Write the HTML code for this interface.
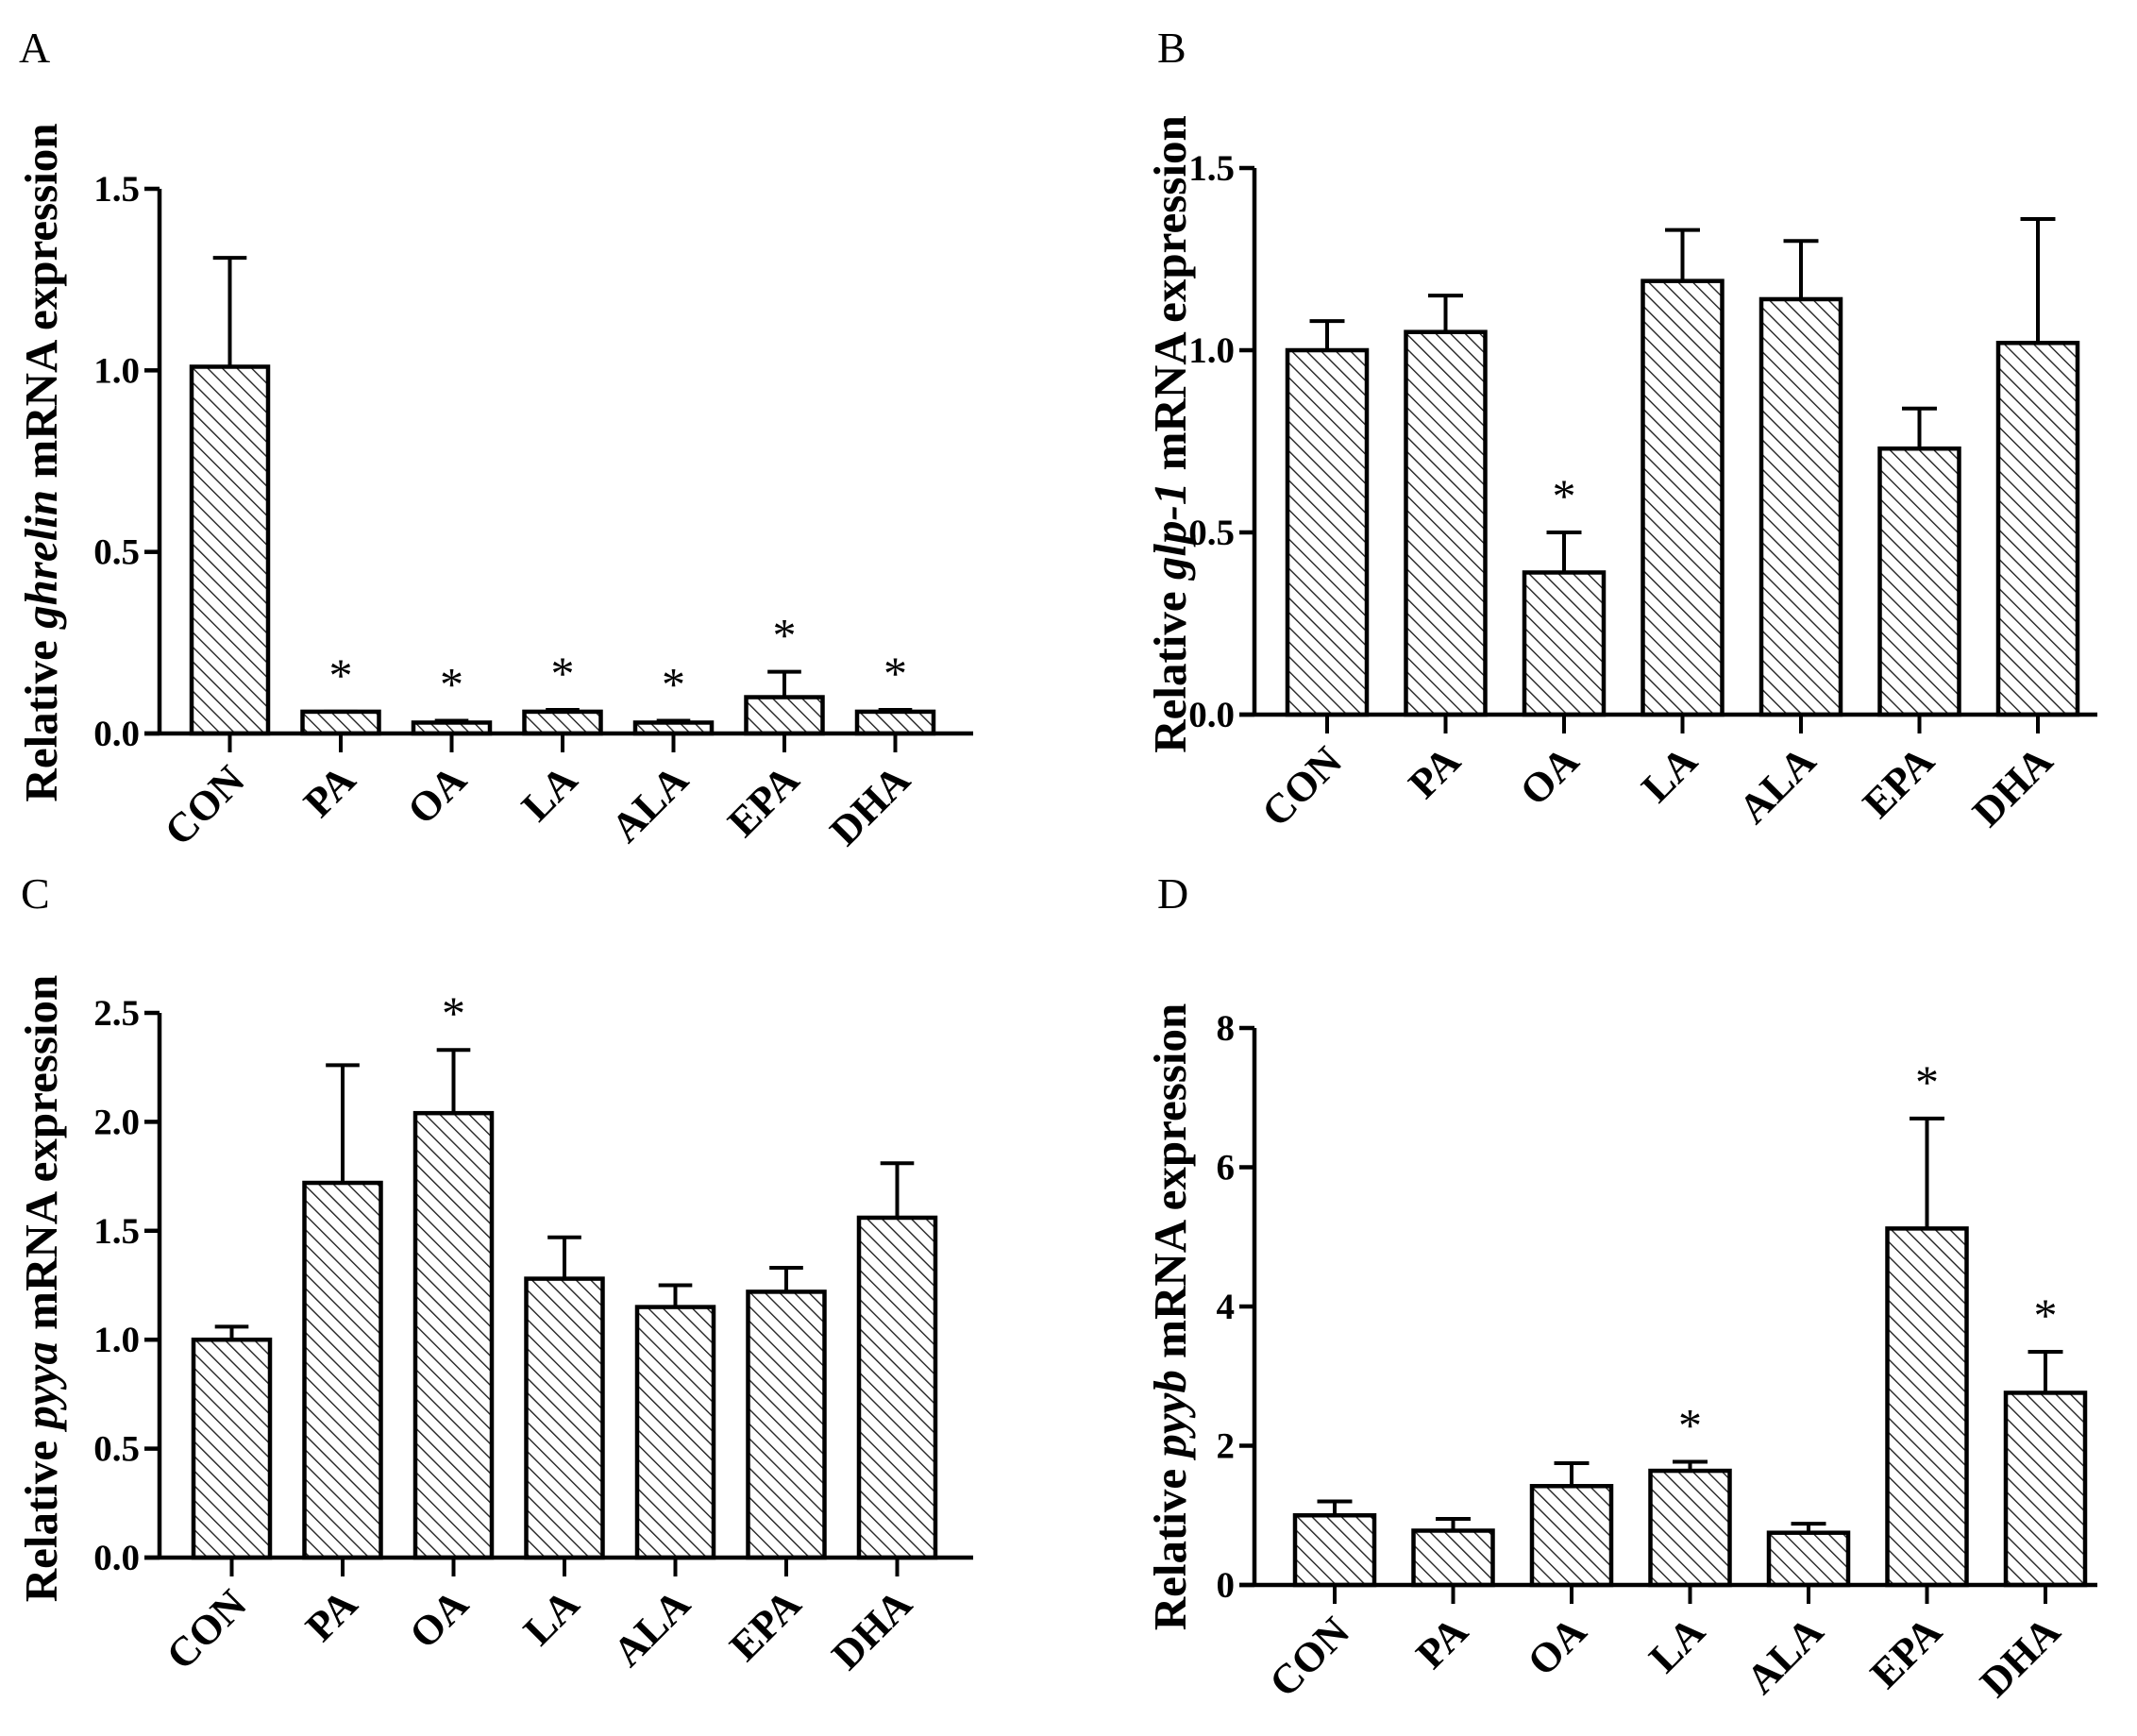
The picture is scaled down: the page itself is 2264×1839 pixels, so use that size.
<!DOCTYPE html>
<html><head><meta charset="utf-8"><style>
html,body{margin:0;padding:0;background:#fff}
svg{display:block}
text{font-family:"Liberation Serif",serif}
</style></head><body>
<svg id="fig" width="2264" height="1839" viewBox="0 0 2264 1839" xmlns="http://www.w3.org/2000/svg">
<defs>
<pattern id="hatch" patternUnits="userSpaceOnUse" width="11" height="11" patternTransform="rotate(-45)">
<rect width="11" height="11" fill="#fff"/>
<line x1="0" y1="0" x2="0" y2="11" stroke="#222" stroke-width="2.8"/>
</pattern>
</defs>
</svg>
<script>
const categories = ["CON","PA","OA","LA","ALA","EPA","DHA"];
const aValues = [1.01,0.06,0.03,0.06,0.03,0.10,0.06];
const aErrTop = [1.31,0.06,0.035,0.065,0.035,0.17,0.065];
const aStars = [0,1,1,1,1,1,1];
const aTicks = ["0.0","0.5","1.0","1.5"];
const bValues = [1.0,1.05,0.39,1.19,1.14,0.73,1.02];
const bErrTop = [1.08,1.15,0.50,1.33,1.30,0.84,1.36];
const bStars = [0,0,1,0,0,0,0];
const bTicks = ["0.0","0.5","1.0","1.5"];
const cValues = [1.0,1.72,2.04,1.28,1.15,1.22,1.56];
const cErrTop = [1.06,2.26,2.33,1.47,1.25,1.33,1.81];
const cStars = [0,0,1,0,0,0,0];
const cTicks = ["0.0","0.5","1.0","1.5","2.0","2.5"];
const dValues = [1.0,0.78,1.42,1.64,0.75,5.12,2.76];
const dErrTop = [1.2,0.95,1.75,1.77,0.88,6.7,3.35];
const dStars = [0,0,0,1,0,1,1];
const dTicks = ["0","2","4","6","8"];

const NS="http://www.w3.org/2000/svg";
const svg=document.getElementById('fig');
function mk(tag,attrs,parent){const e=document.createElementNS(NS,tag);for(const k in attrs)e.setAttribute(k,attrs[k]);(parent||svg).appendChild(e);return e;}

function panel(cfg){
  const g=mk('g',{});
  
  
  const tMax=parseFloat(cfg.ticks[cfg.ticks.length-1]);
  const y=v=>cfg.y0-(v/tMax)*(cfg.y0-cfg.yTop);
  const xc=i=>cfg.barLeft+i*cfg.spacing+cfg.barW/2;
  const lt=mk('text',{x:cfg.lx,y:cfg.ly,'font-size':46},g);lt.textContent=cfg.letter;
  
  
  cfg.values.forEach((v,i)=>{
    const x0=xc(i)-cfg.barW/2;
    const eb=mk('line',{x1:xc(i),x2:xc(i),y1:y(v),y2:y(cfg.err[i]),stroke:'#000','stroke-width':4},g);
    
    
    const cap=mk('line',{x1:xc(i)-cfg.barW*0.22,x2:xc(i)+cfg.barW*0.22,y1:y(cfg.err[i]),y2:y(cfg.err[i]),stroke:'#000','stroke-width':4},g);
    
    
    const r=mk('rect',{x:x0,y:y(v),width:cfg.barW,height:cfg.y0-y(v),fill:'url(#hatch)',stroke:'#000','stroke-width':4.5},g);
    
    
    if(cfg.stars[i]){
      const s=mk('text',{x:xc(i),y:y(cfg.err[i])-22,'font-size':50,'text-anchor':'middle'},g);s.textContent='*';
      
      
    }
    const tk=mk('line',{x1:xc(i),x2:xc(i),y1:cfg.y0,y2:cfg.y0+20,stroke:'#000','stroke-width':4},g);
    
    
    const lx=xc(i)+18, ly=cfg.y0+52;
    const lb=mk('text',{x:lx,y:ly,'font-size':44,'font-weight':'bold','text-anchor':'end',transform:`rotate(-45 ${lx} ${ly})`},g);
    lb.textContent=categories[i];
    
    
  });
  const ya=mk('line',{x1:cfg.ax,x2:cfg.ax,y1:cfg.yTop,y2:cfg.y0+2,stroke:'#000','stroke-width':4.5},g);
  
  
  const xa=mk('line',{x1:cfg.ax-16,x2:cfg.xEnd,y1:cfg.y0,y2:cfg.y0,stroke:'#000','stroke-width':4.5},g);
  
  
  cfg.ticks.forEach(t=>{
    const yy=y(parseFloat(t));
    const tl=mk('line',{x1:cfg.ax-16,x2:cfg.ax,y1:yy,y2:yy,stroke:'#000','stroke-width':4.5},g);
    
    
    const tt=mk('text',{x:cfg.ax-21,y:yy+13,'font-size':39,'font-weight':'bold','text-anchor':'end'},g);tt.textContent=t;
    
    
  });
  const cy=cfg.ty;
  const yt=mk('text',{x:cfg.tx,y:cy,'font-size':49,'font-weight':'bold','text-anchor':'middle',transform:`rotate(-90 ${cfg.tx} ${cy})`},g);
  
  
  const t1=mk('tspan',{},yt);t1.textContent='Relative ';
  const t2=mk('tspan',{'font-style':'italic'},yt);t2.textContent=cfg.gene;
  const t3=mk('tspan',{},yt);t3.textContent=' mRNA expression';
}
panel({letter:'A',lx:20,ly:66,tx:60,ty:490,gene:'ghrelin',values:aValues,err:aErrTop,stars:aStars,ticks:aTicks,ax:169,yTop:200,y0:777,barLeft:203,spacing:117.5,barW:81,xEnd:1031});
panel({letter:'B',lx:1226,ly:66,tx:1256,ty:460,gene:'glp-1',values:bValues,err:bErrTop,stars:bStars,ticks:bTicks,ax:1329,yTop:178,y0:757,barLeft:1364,spacing:125.5,barW:84,xEnd:2222});
panel({letter:'C',lx:22,ly:962,tx:60,ty:1365,gene:'pyya',values:cValues,err:cErrTop,stars:cStars,ticks:cTicks,ax:169,yTop:1073,y0:1650,barLeft:205,spacing:117.5,barW:81,xEnd:1031});
panel({letter:'D',lx:1226,ly:962,tx:1256,ty:1395,gene:'pyyb',values:dValues,err:dErrTop,stars:dStars,ticks:dTicks,ax:1329,yTop:1089,y0:1679,barLeft:1372,spacing:125.5,barW:84,xEnd:2222});
</script>
</body></html>
